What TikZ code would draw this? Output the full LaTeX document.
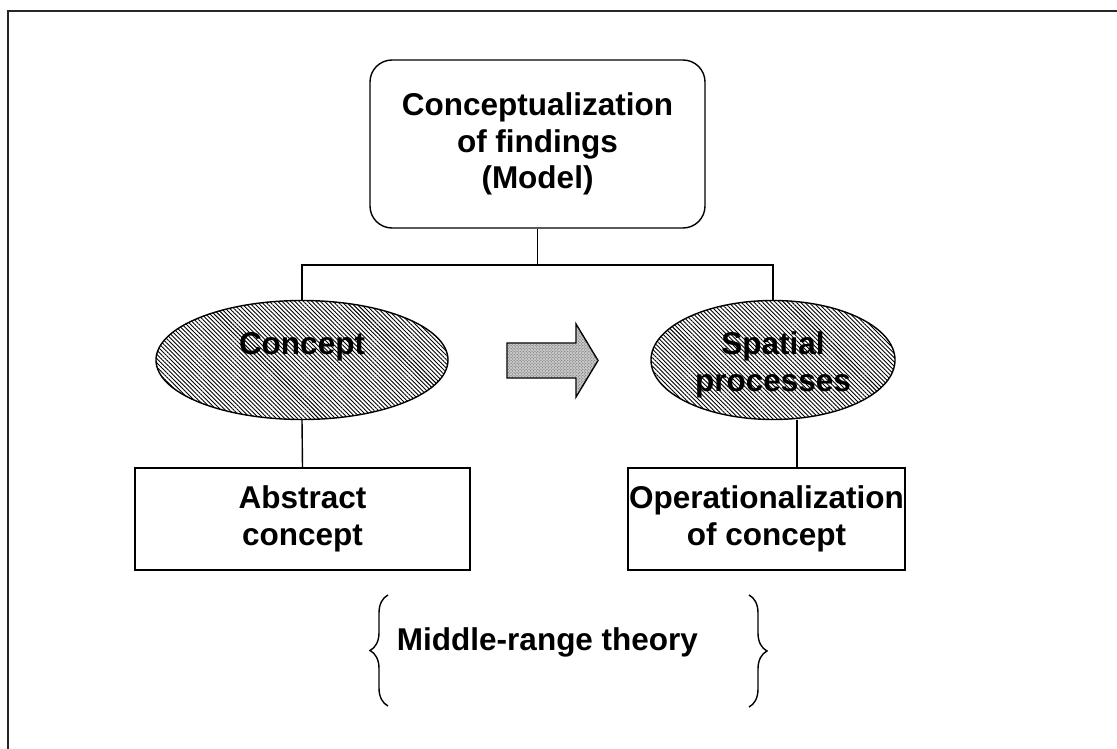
\documentclass[tikz,border=0pt]{standalone}
\usepackage{fontspec}
\setmainfont{Liberation Sans}
\usetikzlibrary{shapes.geometric,patterns,patterns.meta,decorations.pathreplacing,calc}
\begin{document}
\begin{tikzpicture}[x=1bp,y=-1bp,
  lw/.style={line width=1.4bp},
  txt/.style={font=\fontsize{31.5bp}{36.5bp}\selectfont\bfseries, align=center, inner sep=0pt},
  box/.style={lw, draw, txt},
  hatch/.style={lw, draw, ellipse, inner sep=0pt,
    pattern={Lines[angle=-45,distance=3bp,line width=0.9bp]}, pattern color=black},
  bracestyle/.style={lw, decorate, decoration={brace, amplitude=18bp}},
  arrowfill/.style={lw, draw, fill=black!22,
    postaction={pattern=crosshatch dots, pattern color=black!65}}
]
\useasboundingbox (0,0) rectangle (1117,749);
% outer frame (only left and top edges visible)
\draw[line width=2bp, black!85] (8,749) -- (8,11) -- (1117,11);

% nodes
\node[box, rounded corners=22bp, minimum width=335bp, minimum height=168bp] (model) at (537.5,144)
  {Conceptualization\\of findings\\(Model)};
\node[hatch, minimum width=292bp, minimum height=119bp] (concept) at (302,360) {};
\node[txt] (concepttxt) at ([yshift=13bp]concept.center) {Concept};
\node[hatch, minimum width=244bp, minimum height=119bp] (spatial) at (773,360) {};
\node[txt] (spatialtxt) at ([yshift=-5bp]spatial.center) {Spatial\\processes};
\node[box, minimum width=335bp, minimum height=102bp] (abstract) at (302.5,519) {Abstract\\concept};
\node[box, minimum width=277bp, minimum height=102bp] (oper) at (766.5,519) {Operationalization\\of concept};
\node[txt] (mrt) at (547.5,642) {Middle-range theory};

% connectors
\coordinate (j) at (537.5,265);
\draw[lw] (model.south) -- (j);
\draw[lw] (concept.north) |- (j) -| (spatial.north);
\draw[lw] (concept.south) -- (abstract.north);
\path (oper.north) ++(30.5,0) coordinate (ot);
\draw[lw] (ot |- spatial.south) -- (ot);

% block arrow
\draw[arrowfill] (507,343) -- (576,343) -- (576,324) -- (598,360.5) -- (576,397) -- (576,378) -- (507,378) -- cycle;

% braces
\draw[bracestyle] (388,706) -- (388,595);
\draw[bracestyle] (749,595) -- (749,707);
\end{tikzpicture}
\end{document}
